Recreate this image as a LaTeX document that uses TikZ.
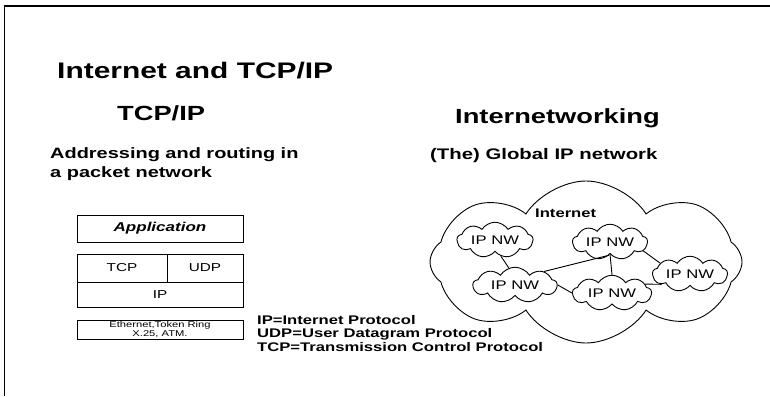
\documentclass[tikz,border=0pt]{standalone}
\usepackage{fontspec}
\setmainfont{Liberation Sans}[FakeStretch=1.33]
\usepackage{tikz}
\usetikzlibrary{shapes.symbols, positioning}

\begin{document}
\begin{tikzpicture}[x=1pt, y=-1pt,
		layer/.style={draw, line width=0.9pt, shape=rectangle, inner sep=0pt, font=\fontsize{11.5}{12}\selectfont},
		ipnw/.style={draw, line width=0.9pt, shape=cloud, cloud puffs=9, cloud puff arc=115, aspect=2.8, inner sep=0pt, font=\fontsize{12.5}{13}\selectfont},
		heading/.style={anchor=base west, inner sep=0pt, font=\bfseries\fontsize{20.5}{22}\selectfont}]
				\useasboundingbox (0, 0) rectangle (770, 396);
				% Frame:
				\draw[line width=1.6pt] (4.5, 396) -- (4.5, 6) -- (770, 6);
				
				% Titles and texts:
				\node[heading, font=\bfseries\fontsize{22.5}{24}\selectfont] (title) at (57, 78){Internet and TCP/IP};
				\node[heading] (tcpip) at (117, 120){TCP/IP};
				\node[heading] (inw) at (455, 123){Internetworking};
				\node[anchor=west, align=left, inner sep=0pt, font=\bfseries\fontsize{15}{18.5}\selectfont] 
				(addr) at (50, 164){Addressing and routing in\\a packet network};
				\node[anchor=base west, inner sep=0pt, font=\bfseries\fontsize{15.3}{17}\selectfont] 
				(glob) at (430, 159){(The) Global IP network};
				
				% Protocol stack:
				\node[layer, minimum width=166pt, minimum height=27pt, font=\bfseries\itshape\fontsize{12.8}{14}\selectfont] 
				(app) at (160, 228.5){Application};
				\node[layer, minimum width=90pt, minimum height=28pt] (tcp) at (122, 268){TCP};
				\node[layer, minimum width=76pt, minimum height=28pt] (udp) at (205, 268){UDP};
				\node[layer, minimum width=166pt, minimum height=25pt] (ip) at (160, 294.5){IP};
				\node[layer, minimum width=166pt, minimum height=19pt, align=center, font=\fontsize{8.4}{7.5}\selectfont] 
				(eth) at (160, 329.5){Ethernet,Token Ring\\X.25, ATM.};
				\node[anchor=west, align=left, inner sep=0pt, font=\bfseries\fontsize{12.5}{13.5}\selectfont] 
				(legend) at (257, 333.5){IP=Internet Protocol\\UDP=User Datagram Protocol\\TCP=Transmission Control Protocol};
				
				% Internet cloud:
				\node[draw, line width=0.9pt, shape=cloud, cloud puffs=8, cloud puff arc=115, minimum width=312pt, minimum height=162pt] 
				(net) at (586, 262){};
				\node[anchor=base west, inner sep=0pt, font=\bfseries\fontsize{12.5}{13}\selectfont] (netlabel) at (535, 217){Internet};
				\node[ipnw, minimum width=76pt, minimum height=25pt] (nw1) at (495, 240){IP NW};
				\node[ipnw, minimum width=75pt, minimum height=34pt] (nw2) at (610, 242){IP NW};
				\node[ipnw, minimum width=75pt, minimum height=32pt] (nw3) at (690, 274){IP NW};
				\node[ipnw, minimum width=84pt, minimum height=26pt] (nw4) at (515, 285){IP NW};
				\node[ipnw, minimum width=79pt, minimum height=30pt] (nw5) at (612, 293){IP NW};
				
				% Links:
				\draw[line width=0.9pt] (nw2.265) -- (nw4.25);
				\draw[line width=0.9pt] (nw2.south) -- (nw5.north);
				\draw[line width=0.9pt] (nw4.east) -- (nw5.west);
				\draw[line width=0.9pt] (nw2.-15) -- (nw3.160);
				\draw[line width=0.9pt] (nw5.15) -- (nw3.200);
				\draw[line width=0.9pt] (nw1.-70) -- (nw4.110);
			\end{tikzpicture}
\end{document}
